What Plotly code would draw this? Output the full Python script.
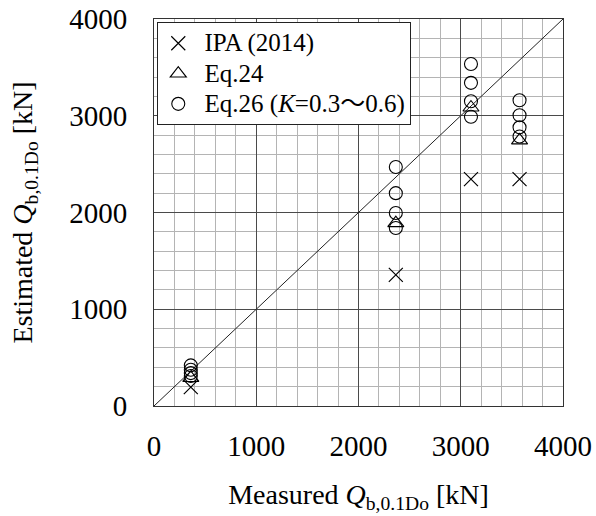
import plotly.graph_objects as go

# ---- data ----
measured = [360, 2365, 3100, 3575]
ipa_2014 = [195, 1355, 2345, 2345]
eq24 = [290, 1890, 3085, 2745]
# Eq.26 for K = 0.3 ... 0.6 (four values per measured case)
eq26_k = [
    [420, 375, 340, 310],
    [2470, 2200, 1995, 1840],
    [3535, 3340, 3150, 2990],
    [3160, 3005, 2880, 2785],
]
line_1to1 = [0, 4000]
tick_vals = [0, 1000, 2000, 3000, 4000]
tick_text = ["0", "1000", "2000", "3000", "4000"]
legend_names = [
    "IPA (2014)",
    "Eq.24",
    "Eq.26 (<i>K</i>=0.3<span style=\"font-family:'Noto Sans CJK JP'\">～</span>0.6)",
]

FONT = "Liberation Serif"


def leg(name):
    return '<span style="font-size:25px">\u00a0' + name + "</span>"


eq26_x = [m for m, ks in zip(measured, eq26_k) for _ in ks]
eq26_y = [v for ks in eq26_k for v in ks]

fig = go.Figure()

fig.add_trace(go.Scatter(
    x=line_1to1, y=line_1to1, mode="lines",
    line=dict(color="#222222", width=1), showlegend=False, hoverinfo="skip"))

fig.add_trace(go.Scatter(
    x=measured, y=ipa_2014, mode="markers", name=leg(legend_names[0]),
    marker=dict(symbol="x-thin-open", size=14, color="black",
                line=dict(color="black", width=1.2))))

fig.add_trace(go.Scatter(
    x=measured, y=eq24, mode="markers", name=leg(legend_names[1]),
    marker=dict(symbol="triangle-up-open", size=14, color="black",
                line=dict(color="black", width=1.1))))

fig.add_trace(go.Scatter(
    x=eq26_x, y=eq26_y, mode="markers", name=leg(legend_names[2]),
    marker=dict(symbol="circle-open", size=13, color="black",
                line=dict(color="black", width=1.1))))


def axis_common():
    return dict(
        range=[0, 4000], tickvals=tick_vals, ticktext=tick_text,
        showgrid=True, gridcolor="#4a4a4a", gridwidth=1,
        minor=dict(dtick=200, showgrid=True, gridcolor="#b4b4b4", gridwidth=1, ticks=""),
        showline=True, linecolor="#333333", linewidth=1, mirror=True,
        ticks="", zeroline=False, automargin=False,
        tickfont=dict(family=FONT, size=29, color="black"),
    )


fig.update_layout(
    width=596, height=516,
    margin=dict(l=154, r=33, t=19, b=110),
    paper_bgcolor="white", plot_bgcolor="white",
    font=dict(family=FONT, color="black"),
    xaxis=dict(**axis_common(), ticklabelstandoff=14,
               title=dict(text="Measured <i>Q</i><sub>b,0.1Do</sub> [kN]",
                          font=dict(family=FONT, size=28, color="black"),
                          standoff=23)),
    yaxis=dict(**axis_common(), ticklabelstandoff=20,
               title=dict(text="Estimated <i>Q</i><sub>b,0.1Do</sub> [kN]",
                          font=dict(family=FONT, size=28, color="black"),
                          standoff=28)),
    legend=dict(x=0.008, y=0.992, xanchor="left", yanchor="top",
                bgcolor="white", bordercolor="#222222", borderwidth=1,
                font=dict(family=FONT, size=21, color="black"),
                tracegroupgap=0, itemsizing="trace"),
    showlegend=True,
)

fig.write_html("out.html")
